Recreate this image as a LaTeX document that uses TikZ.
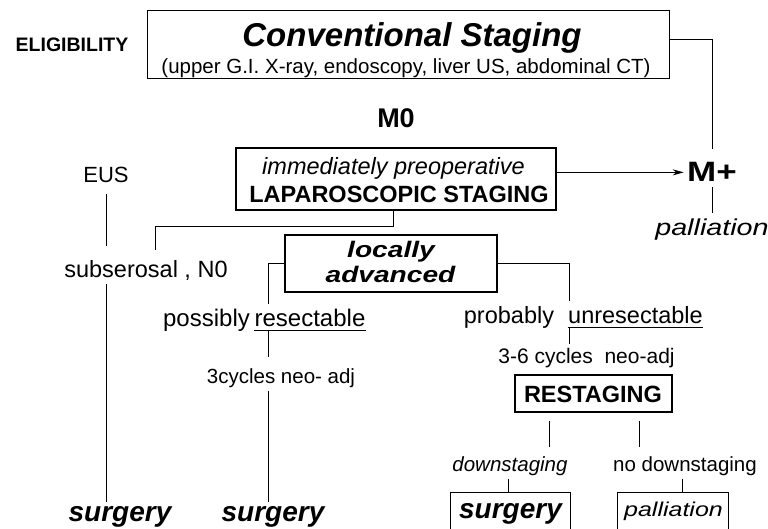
\documentclass[tikz,border=0pt]{standalone}
\usepackage{fontspec}
\setmainfont{Liberation Sans}
\newfontfamily\widefont[FakeStretch=1.25]{Liberation Sans}
\usetikzlibrary{arrows.meta}

\newcommand{\fsz}[1]{\fontsize{#1}{#1}\selectfont}

\tikzset{
  thinbox/.style={draw, line width=1pt, inner sep=0pt},
  thickbox/.style={draw, line width=2.2pt, inner sep=0pt},
  txt/.style={anchor=base, inner sep=3pt},
  uline/.style={anchor=base, inner xsep=0pt, inner ysep=4pt},
  gap/.style={shorten <=8pt, shorten >=6pt},
}

\begin{document}
\begin{tikzpicture}[x=1pt, y=-1pt, line width=1pt]
  \clip (0,0) rectangle (768,529); % page size of the scan

  % boxes
  \node[thinbox, minimum width=522pt, minimum height=68pt] (conv) at (408,45) {};
  \node[thickbox, minimum width=320pt, minimum height=62pt] (lap) at (396,179) {};
  \node[thickbox, minimum width=212pt, minimum height=57pt] (loc) at (391,263.5) {};
  \node[thickbox, minimum width=157pt, minimum height=37pt] (rest) at (593.5,393.5) {};
  \node[thinbox, anchor=north, minimum width=120pt, minimum height=50pt] (surgbox) at (510,492) {}; % runs off the bottom
  \node[thinbox, anchor=north, minimum width=111pt, minimum height=50pt] (pallbox) at (672.5,492) {};

  % texts
  \node[txt] (elig) at (72,52) {\fsz{19.5}\bfseries ELIGIBILITY};
  \node[txt] (convtitle) at (412,47) {\fsz{33}\bfseries\itshape Conventional Staging};
  \node[txt] (convsub) at (406,74) {\fsz{20.5}(upper G.I. X-ray, endoscopy, liver US, abdominal CT)};
  \node[txt] (mzero) at (396,128) {\fsz{27}\bfseries M0};
  \node[txt] (lapa) at (393.5,175) {\fsz{23.5}\itshape immediately preoperative};
  \node[txt] (lapb) at (399,203) {\fsz{23.5}\bfseries LAPAROSCOPIC STAGING};
  \node[txt] (mplus) at (712,182) {\widefont\fsz{28}\bfseries M+};
  \node[txt] (pall) at (712,236) {\widefont\fsz{23}\itshape palliation};
  \node[txt] (eus) at (106,183) {\fsz{22}EUS};
  \node[txt] (subs) at (146,277) {\fsz{23.5}subserosal , N0};
  \node[txt] (loca) at (391,258) {\widefont\fsz{22.5}\bfseries\itshape locally};
  \node[txt] (locb) at (390.5,283) {\widefont\fsz{22.5}\bfseries\itshape advanced};
  \node[txt] (poss) at (206.5,326) {\fsz{24}possibly};
  \node[uline] (resect) at (310,326) {\fsz{24}resectable};
  \node[txt] (cyc3) at (281,383) {\fsz{20.5}3cycles neo- adj};
  \node[txt] (prob) at (509,323) {\fsz{23.5}probably};
  \node[uline] (unres) at (635.5,323) {\fsz{23.5}unresectable};
  \node[txt] (cyc36) at (586.5,363) {\fsz{21}3-6 cycles\ \ neo-adj};
  \node[txt] (restx) at (593,402) {\fsz{23.5}\bfseries RESTAGING};
  \node[txt] (down) at (510,471) {\fsz{20.5}\itshape downstaging};
  \node[txt] (nodown) at (685,471) {\fsz{20.5}no downstaging};
  \node[txt] (surga) at (120,521) {\fsz{28}\bfseries\itshape surgery};
  \node[txt] (surgb) at (273,521) {\fsz{28}\bfseries\itshape surgery};
  \node[txt] (surgc) at (510.5,518) {\fsz{28}\bfseries\itshape surgery};
  \node[txt] (pallc) at (673.5,516) {\widefont\fsz{20}\itshape palliation};

  \coordinate (lcol) at (268,0); % left branch column
  \coordinate (rcol) at (569,0); % right branch column

  % underlines
  \draw (resect.south west) -- (resect.south east);
  \draw (unres.south west) -- (unres.south east);

  % connectors
  \draw[shorten >=10pt] ([yshift=5pt]conv.east) -| (mplus.north);
  \draw[-{Stealth[length=11pt,width=6pt]}] (lap.east |- mplus) -- (mplus.west);
  \draw[shorten <=2pt, shorten >=3pt] (mplus.south) -- (pall.north);
  \draw[shorten <=7pt, shorten >=10pt] (eus.south) -- (eus.south |- subs.north);
  \draw (eus.south |- subs.south) -- (eus.south |- surga.north);
  \draw[shorten >=6pt] ([xshift=-3pt]lap.south) -- ++(0,15) -| ([xshift=9pt]subs.north);
  \draw (loc.west) -| (lcol |- resect.north);
  \draw[shorten >=8pt] (lcol |- resect.south) -- (lcol |- cyc3.north);
  \draw (lcol |- cyc3.south) -- (lcol |- surgb.north);
  \draw (loc.east) -| (rcol |- unres.north);
  \draw (rcol |- unres.south) -- (rcol |- cyc36.north);
  \draw[gap] ([xshift=-44pt]rest.south) -- ([xshift=-44pt]rest.south |- down.north);
  \draw[gap] ([xshift=46pt]rest.south) -- ([xshift=46pt]rest.south |- nodown.north);
  \draw ([xshift=-2pt]down.south) -- ([xshift=-2pt]down.south |- surgbox.north);
  \draw ([xshift=-3pt]nodown.south) -- ([xshift=-3pt]nodown.south |- pallbox.north);
\end{tikzpicture}
\end{document}
